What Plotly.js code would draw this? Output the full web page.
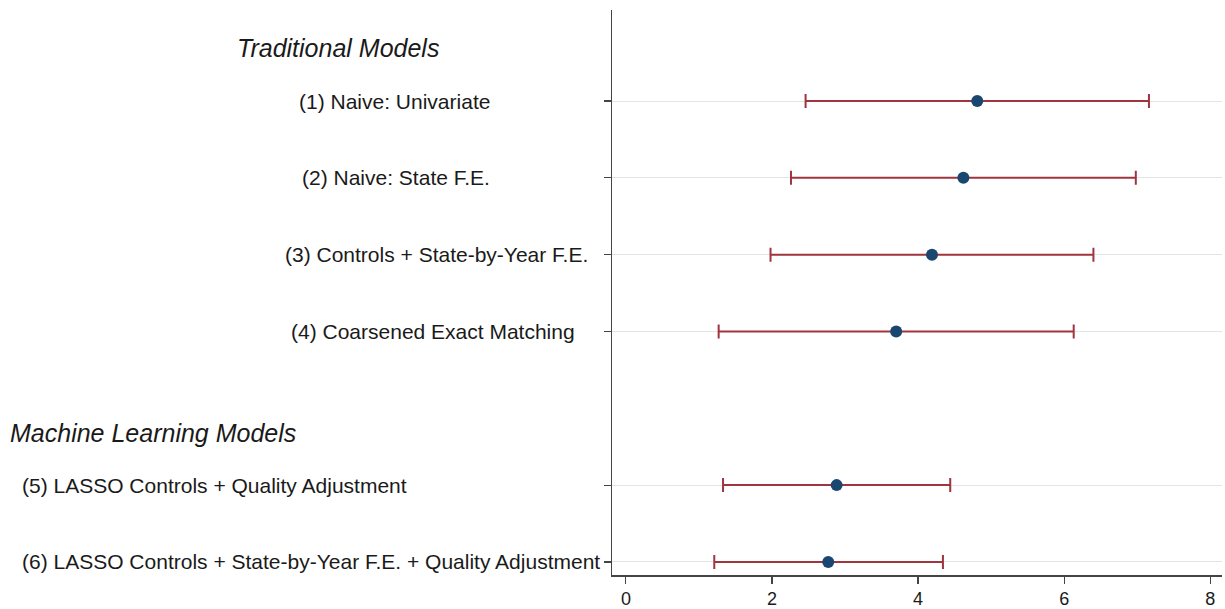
<!DOCTYPE html>
<html>
<head>
<meta charset="utf-8">
<script src="https://cdn.plot.ly/plotly-3.0.1.min.js"></script>
<style>html,body{margin:0;padding:0;background:#fff;}#chart{width:1225px;height:609px;}</style>
</head>
<body>
<div id="chart"></div>
<script>
// ---- data ----
const modelLabels = [
  "(1) Naive: Univariate",
  "(2) Naive: State F.E.",
  "(3) Controls + State-by-Year F.E.",
  "(4) Coarsened Exact Matching",
  "(5) LASSO Controls + Quality Adjustment",
  "(6) LASSO Controls + State-by-Year F.E. + Quality Adjustment"
];
const estimates = [4.81, 4.62, 4.19, 3.70, 2.885, 2.77];
const ciLow     = [2.46, 2.26, 1.98, 1.27, 1.33, 1.21];
const ciHigh    = [7.16, 6.98, 6.40, 6.13, 4.44, 4.34];
const groupHeadings = ["Traditional Models", "Machine Learning Models"];
const xTicks = [0, 2, 4, 6, 8];

// ---- layout helpers ----
const spacer = " ";
const categoryOrder = [modelLabels[0], modelLabels[1], modelLabels[2], modelLabels[3], spacer, modelLabels[4], modelLabels[5]];
const labelStartPx = [297, 300, 283, 289, 20, 20];
const plotLeft = 612, plotWidth = 610;
const px2paper = px => (px - plotLeft) / plotWidth;
const FONT = "Liberation Sans, Arial, sans-serif";

const trace = {
  type: "scatter",
  mode: "markers",
  x: estimates,
  y: modelLabels,
  marker: {color: "#1a476f", size: 12},
  error_x: {
    type: "data",
    symmetric: false,
    array: estimates.map((e, i) => ciHigh[i] - e),
    arrayminus: estimates.map((e, i) => e - ciLow[i]),
    color: "#a0343f",
    thickness: 2,
    width: 7
  },
  hoverinfo: "x+y",
  showlegend: false
};

const annotations = modelLabels.map((lab, i) => ({
  text: lab, xref: "paper", x: px2paper(labelStartPx[i]), xanchor: "left",
  yref: "y", y: lab, yanchor: "middle", showarrow: false,
  font: {family: FONT, size: 21, color: "#1a1a1a"}
}));
annotations.push({
  text: "<i>" + groupHeadings[0] + "</i>", xref: "paper", x: px2paper(235), xanchor: "left",
  yref: "paper", y: (575 - 48) / 565, yanchor: "middle", showarrow: false,
  font: {family: FONT, size: 25, color: "#1a1a1a"}
});
annotations.push({
  text: "<i>" + groupHeadings[1] + "</i>", xref: "paper", x: px2paper(8), xanchor: "left",
  yref: "paper", y: (575 - 433) / 565, yanchor: "middle", showarrow: false,
  font: {family: FONT, size: 25, color: "#1a1a1a"}
});

const layout = {
  width: 1225, height: 609,
  margin: {l: 612, r: 3, t: 10, b: 34, pad: 0},
  paper_bgcolor: "#ffffff", plot_bgcolor: "#ffffff",
  font: {family: FONT, color: "#1a1a1a"},
  xaxis: {
    range: [-0.19, 8.16], tickvals: xTicks, ticktext: xTicks.map(String),
    showgrid: false, zeroline: false, showline: true, linecolor: "#444", linewidth: 1.5,
    ticks: "outside", ticklen: 7, tickcolor: "#444", tickwidth: 1.2,
    tickfont: {size: 18, color: "#1a1a1a"}
  },
  yaxis: {
    type: "category", categoryorder: "array", categoryarray: categoryOrder,
    range: [6.17, -1.185], autorange: false,
    tickvals: modelLabels, showticklabels: false,
    showgrid: true, gridcolor: "#e4e4e4", gridwidth: 1,
    zeroline: false, showline: true, linecolor: "#444", linewidth: 1.5,
    ticks: "outside", ticklen: 7, tickcolor: "#444", tickwidth: 1.2
  },
  annotations: annotations
};

Plotly.newPlot("chart", [trace], layout, {displayModeBar: false, staticPlot: true});
</script>
</body>
</html>
